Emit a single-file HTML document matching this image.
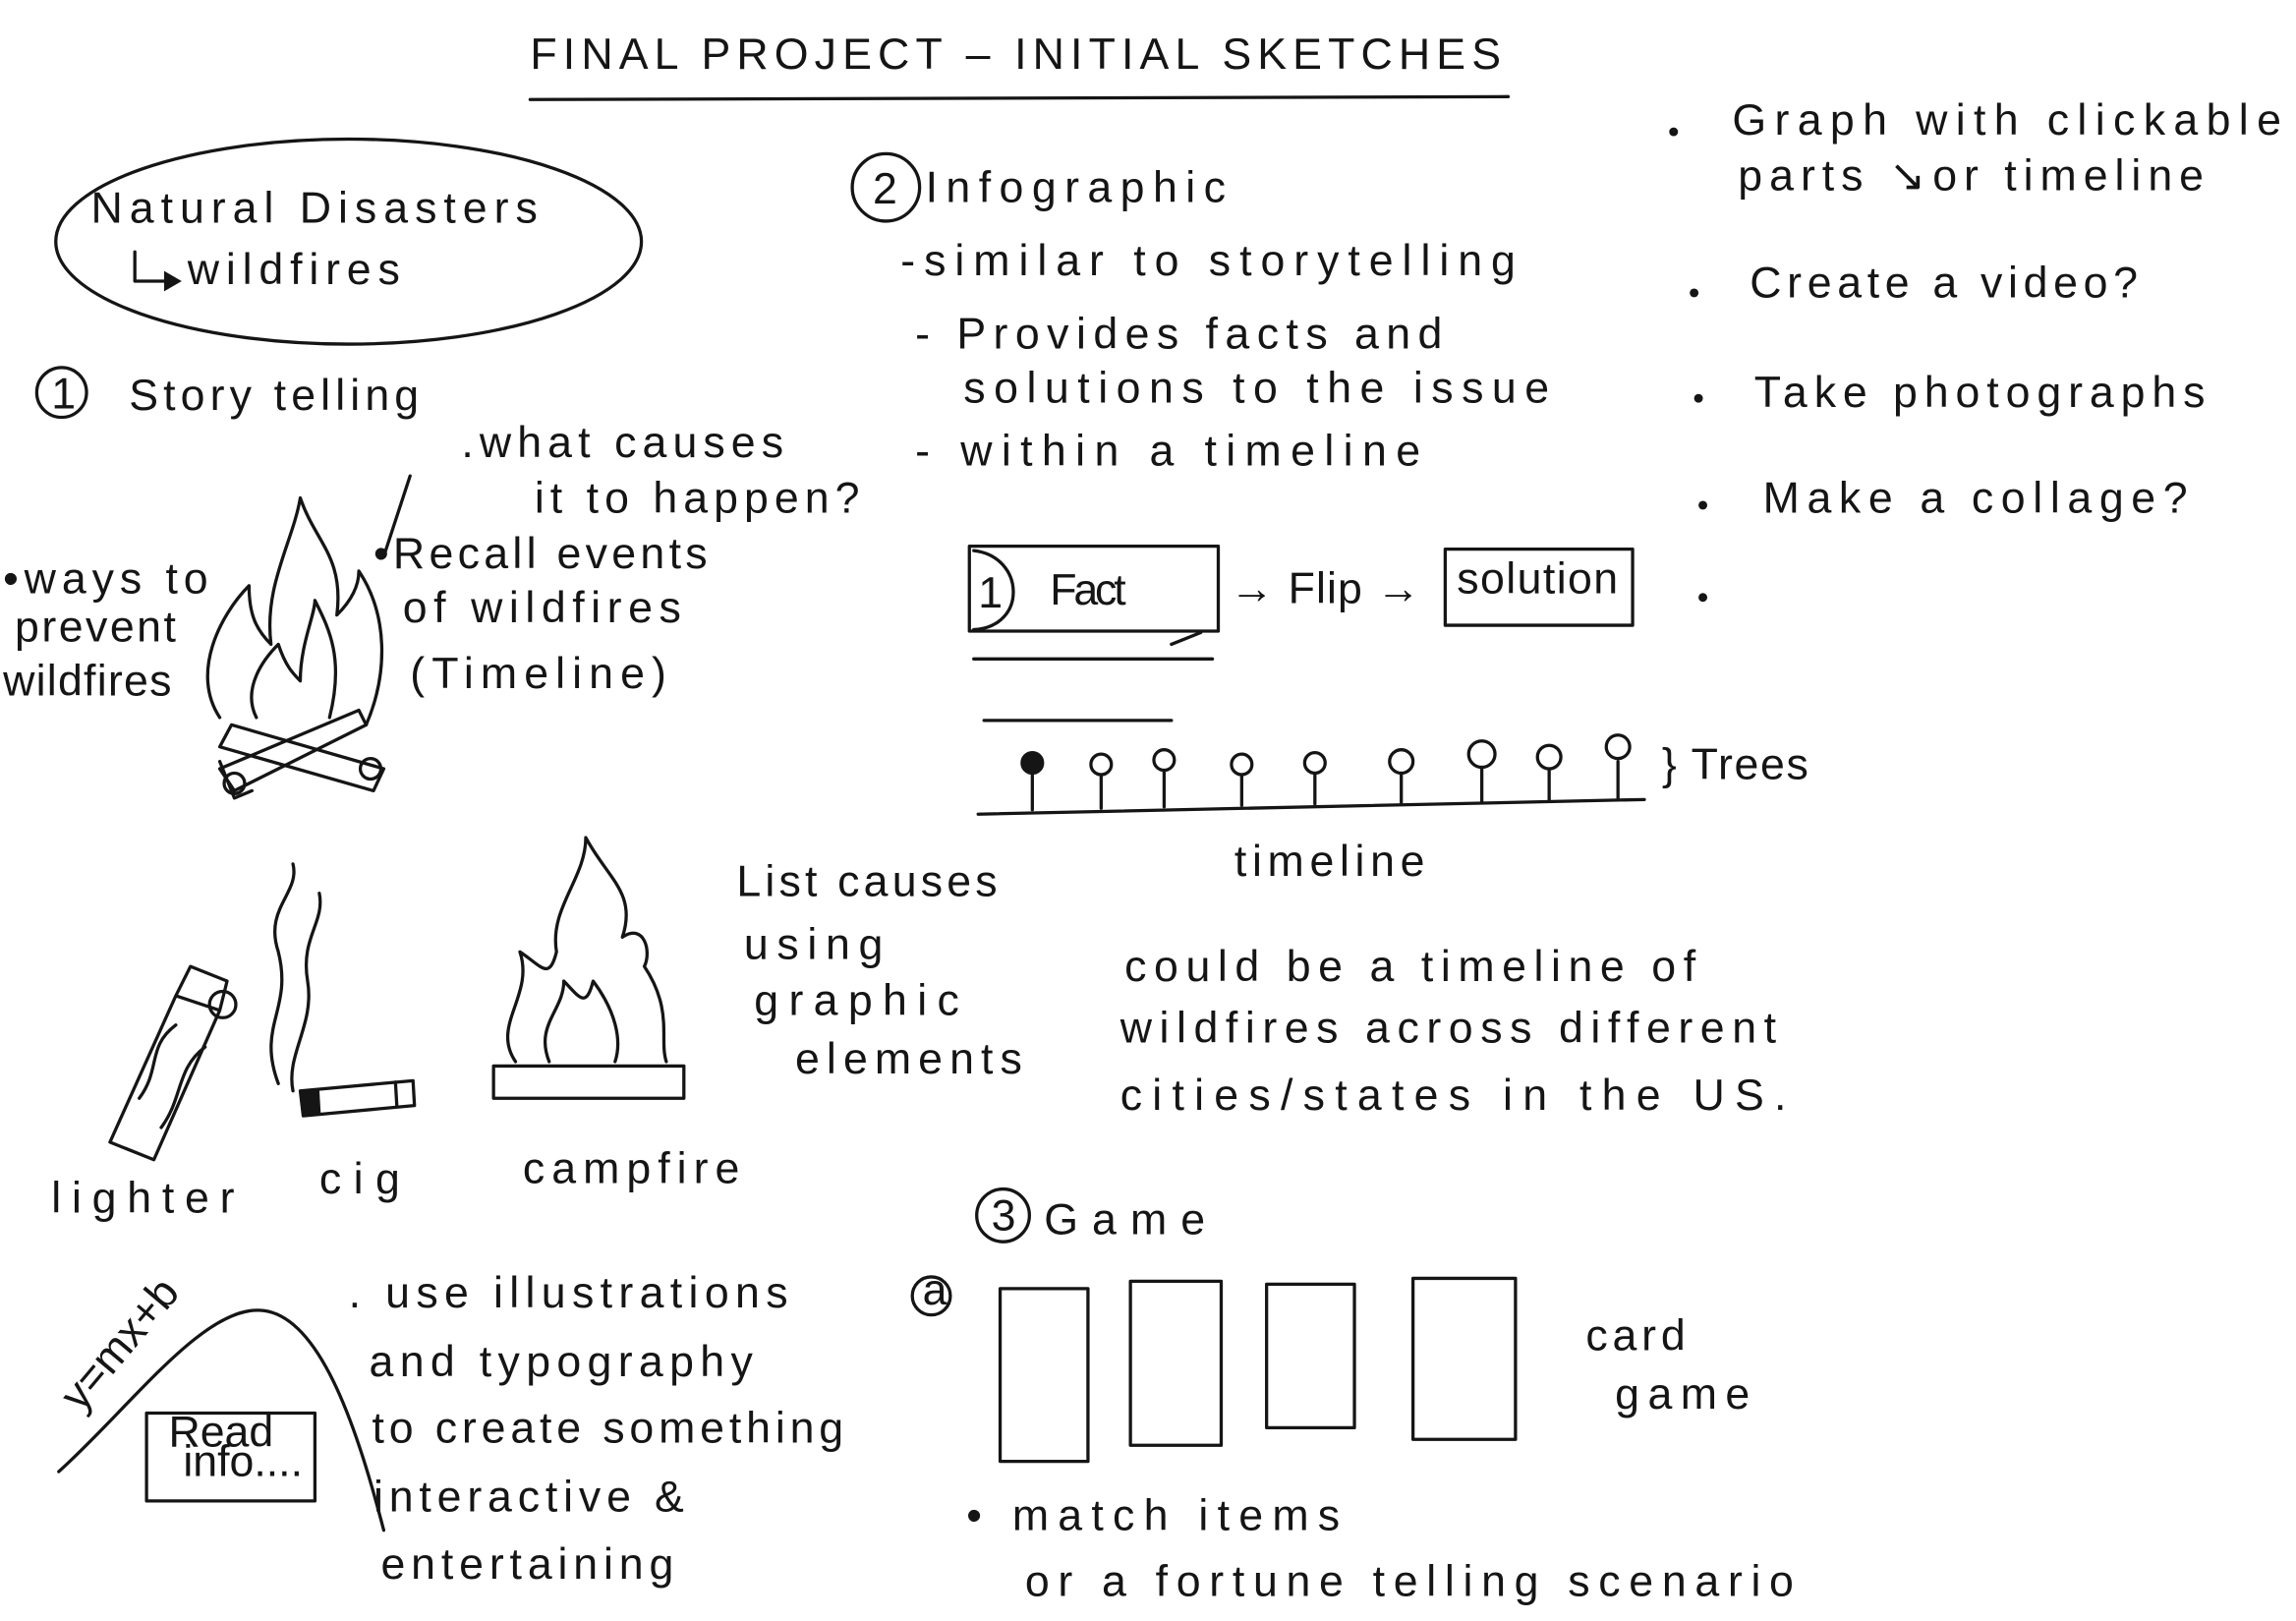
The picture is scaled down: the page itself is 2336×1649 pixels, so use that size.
<!DOCTYPE html>
<html><head><meta charset="utf-8"><style>
html,body{margin:0;padding:0;background:#fff;}
svg{display:block;}
text{font-family:"Liberation Sans",sans-serif;fill:#151515;font-size:30px;}
.s{fill:none;stroke:#151515;stroke-width:2.2;stroke-linecap:round;stroke-linejoin:round;}
</style></head><body>
<svg width="2336" height="1649" viewBox="0 0 1568 1107" xmlns="http://www.w3.org/2000/svg">
<rect width="1568" height="1107" fill="#fff"/>
<!-- title -->
<text x="362" y="47" font-size="28" textLength="663">FINAL PROJECT – INITIAL SKETCHES</text>
<path class="s" d="M362 68 L1030 66"/>
<!-- ellipse -->
<ellipse class="s" cx="238" cy="165" rx="200" ry="70"/>
<text x="62" y="152" textLength="305">Natural Disasters</text>
<path class="s" d="M92 172 L92 192 L118 192"/><path d="M112 185 L124 192 L112 199Z" fill="#151515"/>
<text x="128" y="194" textLength="145">wildfires</text>
<!-- 1 story telling -->
<circle class="s" cx="42" cy="268" r="17"/><text x="35" y="279" font-size="24">1</text>
<text x="88" y="280" font-size="32" textLength="198">Story telling</text>
<text x="315" y="312" font-size="28" textLength="220">.what causes</text>
<text x="365" y="350" font-size="28" textLength="222">it to happen?</text>
<text x="2" y="405" font-size="28" textLength="140">•ways to</text>
<text x="10" y="438" font-size="28" textLength="110">prevent</text>
<text x="2" y="475" font-size="28" textLength="115">wildfires</text>
<text x="255" y="388" font-size="28" textLength="228">•Recall events</text>
<text x="275" y="425" font-size="28" textLength="190">of wildfires</text>
<text x="280" y="470" font-size="28" textLength="175">(Timeline)</text>
<path class="s" d="M280 325 L262 380"/>
<!-- fire -->
<path class="s" d="M150 490 C130 460 150 420 170 400 C170 420 175 430 185 440 C180 400 200 370 205 340 C215 370 235 380 230 420 C240 410 245 400 245 390 C265 420 265 460 250 495"/>
<path class="s" d="M175 490 C165 470 180 450 190 440 C195 455 200 460 205 465 C205 440 215 420 215 410 C225 430 235 450 225 490"/>
<path class="s" d="M150 510 L255 540 L262 525 L158 495Z M150 520 L160 545 L172 540 M250 495 L160 540 L150 525 L245 485Z"/>
<circle class="s" cx="160" cy="535" r="7"/><circle class="s" cx="253" cy="525" r="7"/>
<!-- 2 infographic -->
<circle class="s" cx="605" cy="128" r="23"/><text x="596" y="139" font-size="28">2</text>
<text x="632" y="138" font-size="36" textLength="205">Infographic</text>
<text x="615" y="188" textLength="420">-similar to storytelling</text>
<text x="625" y="238" textLength="360">- Provides facts and</text>
<text x="658" y="275" textLength="400">solutions to the issue</text>
<text x="625" y="318" textLength="345">- within a timeline</text>
<rect class="s" x="662" y="373" width="170" height="58"/>
<path class="s" d="M665 376 C700 380 702 428 665 430"/>
<text x="668" y="415" font-size="26">1</text>
<text x="717" y="413" font-size="24" textLength="52">Fact</text>
<text x="840" y="412" font-size="26" textLength="130">→ Flip →</text>
<rect class="s" x="987" y="375" width="128" height="52"/>
<text x="995" y="405" font-size="24" textLength="110">solution</text>
<path class="s" d="M665 450 L828 450 M672 492 L800 492 M800 440 L820 432"/>
<!-- timeline trees -->
<path class="s" d="M668 556 L1123 546"/>
<g class="s">
<path d="M705 553 V528"/><circle cx="705" cy="521" r="7" fill="#151515"/>
<path d="M752 552 V530"/><circle cx="752" cy="522" r="7"/>
<path d="M795 551 V527"/><circle cx="795" cy="519" r="7"/>
<path d="M848 550 V530"/><circle cx="848" cy="522" r="7"/>
<path d="M898 549 V529"/><circle cx="898" cy="521" r="7"/>
<path d="M957 548 V528"/><circle cx="957" cy="520" r="8"/>
<path d="M1012 547 V524"/><circle cx="1012" cy="515" r="9"/>
<path d="M1058 547 V526"/><circle cx="1058" cy="517" r="8"/>
<path d="M1105 546 V520"/><circle cx="1105" cy="510" r="8"/>
</g>
<text x="1135" y="532" font-size="30" textLength="100">} Trees</text>
<text x="843" y="598" textLength="130">timeline</text>
<!-- causes -->
<text x="503" y="612" textLength="178">List causes</text>
<text x="508" y="655" textLength="95">using</text>
<text x="515" y="693" textLength="140">graphic</text>
<text x="543" y="733" textLength="155">elements</text>
<!-- lighter -->
<path class="s" d="M75 780 L120 680 L150 690 L105 792Z M120 680 L130 660 L155 670 L150 690"/>
<circle class="s" cx="152" cy="686" r="9"/>
<path class="s" d="M95 750 C110 730 100 715 120 700 M110 770 C125 750 120 730 140 715"/>
<!-- cig -->
<path class="s" d="M205 745 L282 738 L283 755 L207 762Z M270 739 L271 756"/>
<path d="M205 745 L218 744 L219 761 L207 762Z" fill="#151515"/>
<path class="s" d="M190 740 C175 700 200 690 190 650 C180 620 205 610 200 590 M200 745 C195 720 215 700 210 670 C205 640 222 630 218 610"/>
<!-- campfire -->
<rect class="s" x="337" y="728" width="130" height="22"/>
<path class="s" d="M352 725 C335 700 365 680 355 650 C370 660 375 670 380 650 C375 620 400 600 400 572 C415 600 435 610 425 640 C440 630 445 650 440 660 C460 690 450 710 455 725"/>
<path class="s" d="M375 725 C365 700 385 690 385 670 C395 680 400 690 405 670 C420 690 425 710 420 725"/>
<text x="35" y="828" textLength="125">lighter</text>
<text x="218" y="815" textLength="55">cig</text>
<text x="357" y="808" textLength="148">campfire</text>
<!-- could be -->
<text x="768" y="670" textLength="390">could be a timeline of</text>
<text x="765" y="712" textLength="448">wildfires across different</text>
<text x="765" y="758" textLength="455">cities/states in the US.</text>
<!-- game -->
<circle class="s" cx="685" cy="830" r="18"/><text x="677" y="840" font-size="26">3</text>
<text x="713" y="843" font-size="40" textLength="110">Game</text>
<circle class="s" cx="636" cy="885" r="13"/><text x="630" y="891" font-size="18">a</text>
<rect class="s" x="683" y="880" width="60" height="118"/>
<rect class="s" x="772" y="875" width="62" height="112"/>
<rect class="s" x="865" y="877" width="60" height="98"/>
<rect class="s" x="965" y="873" width="70" height="110"/>
<text x="1083" y="922" textLength="68">card</text>
<text x="1103" y="962" textLength="92">game</text>
<text x="660" y="1045" textLength="255">• match items</text>
<text x="700" y="1090" textLength="525">or a fortune telling scenario</text>
<!-- graph -->
<path class="s" d="M40 1005 C90 960 140 890 180 895 C220 900 245 980 262 1045"/>
<text x="55" y="965" font-size="20" transform="rotate(-50 55 965)">y=mx+b</text>
<rect class="s" x="100" y="965" width="115" height="60"/>
<text x="115" y="988" font-size="18">Read</text>
<text x="125" y="1008" font-size="18">info....</text>
<text x="238" y="893" textLength="300">. use illustrations</text>
<text x="252" y="940" textLength="262">and typography</text>
<text x="254" y="985" textLength="322">to create something</text>
<text x="255" y="1032" textLength="212">interactive &amp;</text>
<text x="260" y="1078" textLength="200">entertaining</text>
<!-- right column -->
<circle cx="1143" cy="90" r="3" fill="#151515"/>
<text x="1183" y="92" textLength="375">Graph with clickable</text>
<text x="1187" y="130" textLength="318">parts ↘or timeline</text>
<circle cx="1157" cy="200" r="3" fill="#151515"/>
<text x="1195" y="203" textLength="265">Create a video?</text>
<circle cx="1160" cy="272" r="3" fill="#151515"/>
<text x="1198" y="278" textLength="308">Take photographs</text>
<circle cx="1163" cy="345" r="3" fill="#151515"/>
<text x="1204" y="350" textLength="290">Make a collage?</text>
<circle cx="1163" cy="408" r="3" fill="#151515"/>
</svg>
</body></html>
